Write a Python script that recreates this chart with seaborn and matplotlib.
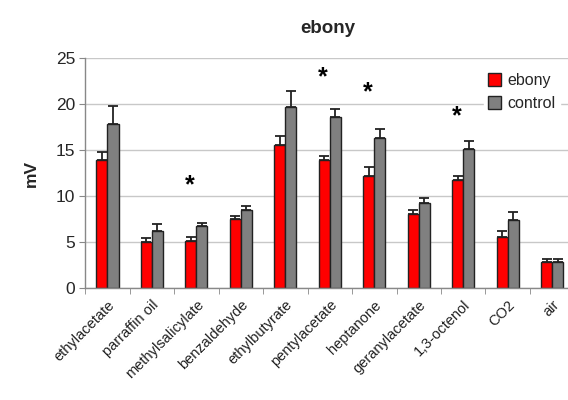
import numpy as np
import pandas as pd
import matplotlib
matplotlib.use('Agg')
import matplotlib.pyplot as plt
import seaborn as sns

odors = ['ethylacetate', 'parraffin oil', 'methylsalicylate', 'benzaldehyde',
         'ethylbutyrate', 'pentylacetate', 'heptanone', 'geranylacetate',
         '1,3-octenol', 'CO2', 'air']
ebony = [13.9, 5.0, 5.15, 7.45, 15.5, 13.95, 12.2, 8.0, 11.7, 5.5, 2.8]
ebony_err = [0.9, 0.45, 0.35, 0.4, 1.0, 0.45, 0.9, 0.5, 0.45, 0.7, 0.3]
control = [17.8, 6.2, 6.7, 8.45, 19.7, 18.55, 16.25, 9.2, 15.15, 7.4, 2.85]
control_err = [2.0, 0.8, 0.4, 0.5, 1.7, 0.95, 1.05, 0.6, 0.8, 0.85, 0.35]
# significance stars: (category index, height)
star_idx = [2, 5, 6, 8]
star_y = [11.2, 22.9, 21.3, 18.7]

df = pd.DataFrame({
    'odor': odors * 2,
    'mV': ebony + control,
    'group': ['ebony'] * len(odors) + ['control'] * len(odors),
})

sns.set_style('white')
plt.rcParams['font.family'] = ['Liberation Sans', 'DejaVu Sans']

fig = plt.figure(figsize=(5.68, 4.0), dpi=100)
ax = fig.add_axes([0.15, 0.28, 0.855, 0.575])

palette = {'ebony': '#ff0000', 'control': '#808080'}
sns.barplot(data=df, x='odor', y='mV', hue='group', palette=palette,
            width=0.5, edgecolor='#222222', linewidth=1.0, ax=ax,
            saturation=1, legend=True)

# one-sided error bars
x = np.arange(len(odors))
ax.errorbar(x - 0.125, ebony, yerr=[np.zeros(len(odors)), ebony_err],
            fmt='none', ecolor='#222222', elinewidth=1.3, capsize=3.5, capthick=1.3)
ax.errorbar(x + 0.125, control, yerr=[np.zeros(len(odors)), control_err],
            fmt='none', ecolor='#222222', elinewidth=1.3, capsize=3.5, capthick=1.3)

for i, h in zip(star_idx, star_y):
    ax.text(i - 0.15, h, '*', ha='center', va='center', fontsize=18,
            fontweight='bold', color='black')

ax.set_ylim(0, 25)
ax.set_xlim(-0.5, 10.42)
ax.set_yticks([0, 5, 10, 15, 20, 25])
ax.yaxis.grid(True, color='#c8c8c8', linewidth=1.0)
ax.set_axisbelow(True)
ax.tick_params(axis='y', labelsize=12.5, length=4, left=True, color='#888888', pad=3)
ax.set_xticks(x)
ax.set_xticklabels(odors, rotation=45, ha='right', rotation_mode='anchor',
                   fontsize=10.5, color='#222222')
ax.set_xticks(np.arange(-0.5, 10.5, 1), minor=True)
ax.tick_params(axis='x', which='major', length=0, pad=7)
ax.tick_params(axis='x', which='minor', length=4, bottom=True, color='#888888')

for s in ['top', 'right']:
    ax.spines[s].set_visible(False)
for s in ['left', 'bottom']:
    ax.spines[s].set_color('#888888')
    ax.spines[s].set_linewidth(1.0)

ax.set_xlabel('')
ax.set_ylabel('mV', fontsize=12.5, fontweight='bold', labelpad=12)
ax.set_title('ebony', fontsize=13.5, fontweight='bold', pad=18)

leg = ax.legend(loc='upper right', bbox_to_anchor=(0.995, 0.99), frameon=True,
                fontsize=11.5, handlelength=0.8, handleheight=0.8,
                handletextpad=0.4, labelspacing=0.5, borderpad=0.3)
leg.get_frame().set_edgecolor('white')
leg.get_frame().set_facecolor('white')
leg.get_frame().set_alpha(1)
leg.get_frame().set_boxstyle('square', pad=0.0)

fig.savefig('out.png', dpi=100)
